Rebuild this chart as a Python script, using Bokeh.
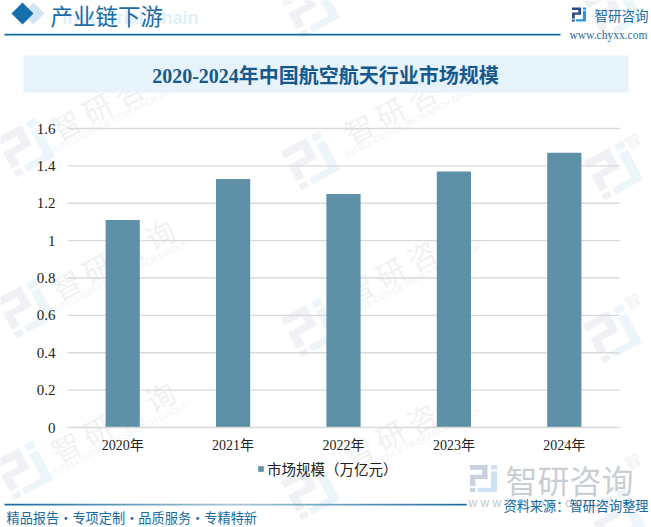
import math
from bokeh.embed import file_html
from bokeh.resources import INLINE
from bokeh.models import (BoxAnnotation, ColumnDataSource, FixedTicker, Label, Legend, LegendItem, LinearAxis,
                          PolyAnnotation, Range1d)
from bokeh.plotting import figure

years = ["2020年", "2021年", "2022年", "2023年", "2024年"]
market_size = [1.11, 1.33, 1.25, 1.37, 1.47]
y_ticks = [0, 0.2, 0.4, 0.6, 0.8, 1, 1.2, 1.4, 1.6]
y_tick_labels = ["0", "0.2", "0.4", "0.6", "0.8", "1", "1.2", "1.4", "1.6"]
series_name = "市场规模（万亿元）"
chart_title = "2020-2024年中国航空航天行业市场规模"
section_title = "产业链下游"
section_ghost = "Industrial Chain"
footer_left = "精品报告·专项定制·品质服务·专精特新"
footer_right = "资料来源：智研咨询整理"
brand = "智研咨询"
site = "www.chyxx.com"

W, H = 651, 527
L, R, T, B = 67, 619, 128, 427
SERIF_CJK = "Liberation Serif, Noto Sans CJK SC"
SANS_CJK = "Noto Sans CJK SC"

# full-canvas frame: ranges chosen so that the chart area falls on L..R, T..B
x_idx = list(range(len(years)))
cat_px = (R - L) / len(years)
x_start = -0.5 - L / cat_px
y_px = (B - T) / 1.6
y_start = -(H - B) / y_px
p = figure(width=W, height=H, x_range=Range1d(x_start, x_start + W / cat_px),
           y_range=Range1d(y_start, y_start + H / y_px), output_backend="svg", toolbar_location=None,
           x_axis_location=None, y_axis_location=None, min_border=0)
p.outline_line_color = None
p.xgrid.visible = False
p.ygrid.visible = False

yax = LinearAxis(fixed_location=-0.5, ticker=FixedTicker(ticks=y_ticks), bounds=(0, 1.6),
                 major_label_overrides=dict(zip(y_ticks, y_tick_labels)), axis_line_color=None,
                 major_tick_line_color=None, minor_tick_line_color=None, major_label_standoff=6,
                 major_label_text_font=SERIF_CJK, major_label_text_font_size="15px", major_label_text_color="#222222")
xax = LinearAxis(fixed_location=0, ticker=FixedTicker(ticks=x_idx), bounds=(-0.5, len(years) - 0.5),
                 major_label_overrides=dict(zip(x_idx, years)), axis_line_color="#d9d9d9", axis_line_width=1.3,
                 major_tick_line_color=None, minor_tick_line_color=None, major_label_standoff=4,
                 major_label_text_font=SERIF_CJK, major_label_text_font_size="14px", major_label_text_color="#222222",
                 major_label_orientation="horizontal")
p.add_layout(yax, "left")
p.add_layout(xax, "below")

grid_v = y_ticks[1:]
p.segment(x0=[-0.5] * len(grid_v), x1=[len(years) - 0.5] * len(grid_v), y0=grid_v, y1=grid_v,
          line_color="#d9d9d9", line_width=1.3, level="underlay")


def rect(x0, y0, x1, y1, color, level="underlay"):
    p.add_layout(BoxAnnotation(left=x0, right=x1, top=y0, bottom=y1, left_units="canvas", right_units="canvas",
                               top_units="canvas", bottom_units="canvas", fill_color=color, fill_alpha=1,
                               line_color=None, level=level))


def poly(pts, color, level="underlay"):
    p.add_layout(PolyAnnotation(xs=[q[0] for q in pts], ys=[q[1] for q in pts], xs_units="canvas", ys_units="canvas",
                                fill_color=color, fill_alpha=1, line_color=None, level=level))


def text(s, x, y, size, color, font=SANS_CJK, align="left", style="normal", angle=0, level="annotation"):
    p.add_layout(Label(x=x, y=y, x_units="canvas", y_units="canvas", text=s, text_font=font,
                       text_font_size=f"{size}px", text_color=color, text_align=align, text_baseline="middle",
                       text_font_style=style, angle=angle, angle_units="deg", level=level))


LOGO_LEFT = [[(0, 0), (.65, 0), (.65, .52), (.2, .52), (.2, .78), (0, .78), (0, .36), (.45, .36), (.45, .18), (0, .18)],
             [(0, .86), (.2, .86), (.2, 1), (0, 1)]]
LOGO_RIGHT = [[(.78, 0), (1, 0), (1, .16), (.78, .16)],
              [(.78, .24), (1, .24), (1, 1), (.28, 1), (.28, .84), (.78, .84)]]


def logo(cx, cy, size, c1, c2, angle=0, level="underlay"):
    a = math.radians(angle)
    for shapes, col in ((LOGO_LEFT, c1), (LOGO_RIGHT, c2)):
        for shape in shapes:
            pts = []
            for u, v in shape:
                dx, dy = (u - .5) * size, (v - .5) * size
                pts.append((cx + dx * math.cos(a) + dy * math.sin(a), cy - dx * math.sin(a) + dy * math.cos(a)))
            poly(pts, col, level)


# watermark layer
for cx, cy in [(112, 98), (112, 258), (112, 420), (405, 102), (405, 262), (405, 425)]:
    text("智 研 咨 询", cx, cy, 29, "#f0f1f3", angle=28, align="center", level="image")
    text("INTELLIGENCE RESEARCH GROUP", cx + 8, cy + 18, 9, "#f2f3f5", font="Liberation Sans", angle=27,
         align="center", level="image")
for cy in (140, 300, 460):
    text("智", 632, cy, 16, "#f0f1f3", angle=28, align="center", level="image")
for cx, cy in [(25, 147), (25, 308), (23, 470), (310, 8), (310, 160), (310, 327), (310, 490),
               (613, 10), (613, 170), (612, 333), (615, 517)]:
    logo(cx, cy, 44, "#eff1f5", "#ebf5fa", angle=28, level="image")

# header
poly([(33, 2), (44, 13), (33, 24), (22, 13)], "#d3e5f1")
poly([(22, 2), (33, 13), (22, 24), (11, 13)], "#156fad")
text(section_ghost, 62, 17, 18, "#dff0fb", font="Liberation Sans", style="bold", level="underlay")
text(section_title, 50, 14, 22.5, "#1b6ca6")
rect(4, 33.3, 560, 35, "#0f6aa6")
logo(578.5, 14, 14, "#2b4a8c", "#2a9ad6", level="annotation")
text(brand, 594, 14, 13.5, "#1c6ba0")
text(site, 569, 34, 11.5, "#2a6d9c", font="Liberation Serif")

# chart title band
rect(23, 55, 628, 92, "#e6f3fb")
text(chart_title, 325, 75, 20, "#17598c", font=SERIF_CJK, align="center", style="bold")

# footer
seg_colors = [(31, 108, 157), (168, 198, 218), (31, 108, 157)]
n = 46
for i in range(n):
    t = i / (n - 1) * 2
    k = int(min(t, 1))
    f = t - k
    c = [round(seg_colors[k][j] + (seg_colors[k + 1][j] - seg_colors[k][j]) * f) for j in range(3)]
    x0 = 4 + i * (466 - 4) / n
    rect(x0, 503.3, x0 + (466 - 4) / n + .3, 505, "#%02x%02x%02x" % tuple(c))
text(footer_left, 6, 517.3, 13.2, "#17699f")
logo(483, 478, 27, "#c9d0e0", "#cce2f3")
text(brand, 505, 478, 32, "#c9ced4")
text("w w w . c h y x x . c o m", 468, 502, 12, "#c8c8c8", font="Liberation Sans")
text(footer_right, 503, 505, 13.2, "#17699f")

source = ColumnDataSource(data=dict(x=x_idx, top=market_size))
bars = p.vbar(x="x", top="top", width=0.31, bottom=0, source=source, fill_color="#5e90a8", line_color=None)
legend = Legend(items=[LegendItem(label=series_name, renderers=[bars])], location=(257, 48), padding=0, margin=0,
                glyph_width=7, glyph_height=7, label_standoff=3, background_fill_alpha=0, border_line_color=None,
                label_text_font=SANS_CJK, label_text_font_size="14.5px", label_text_color="#222222")
p.add_layout(legend, "center")

open("out.html", "w").write(file_html(p, INLINE))
